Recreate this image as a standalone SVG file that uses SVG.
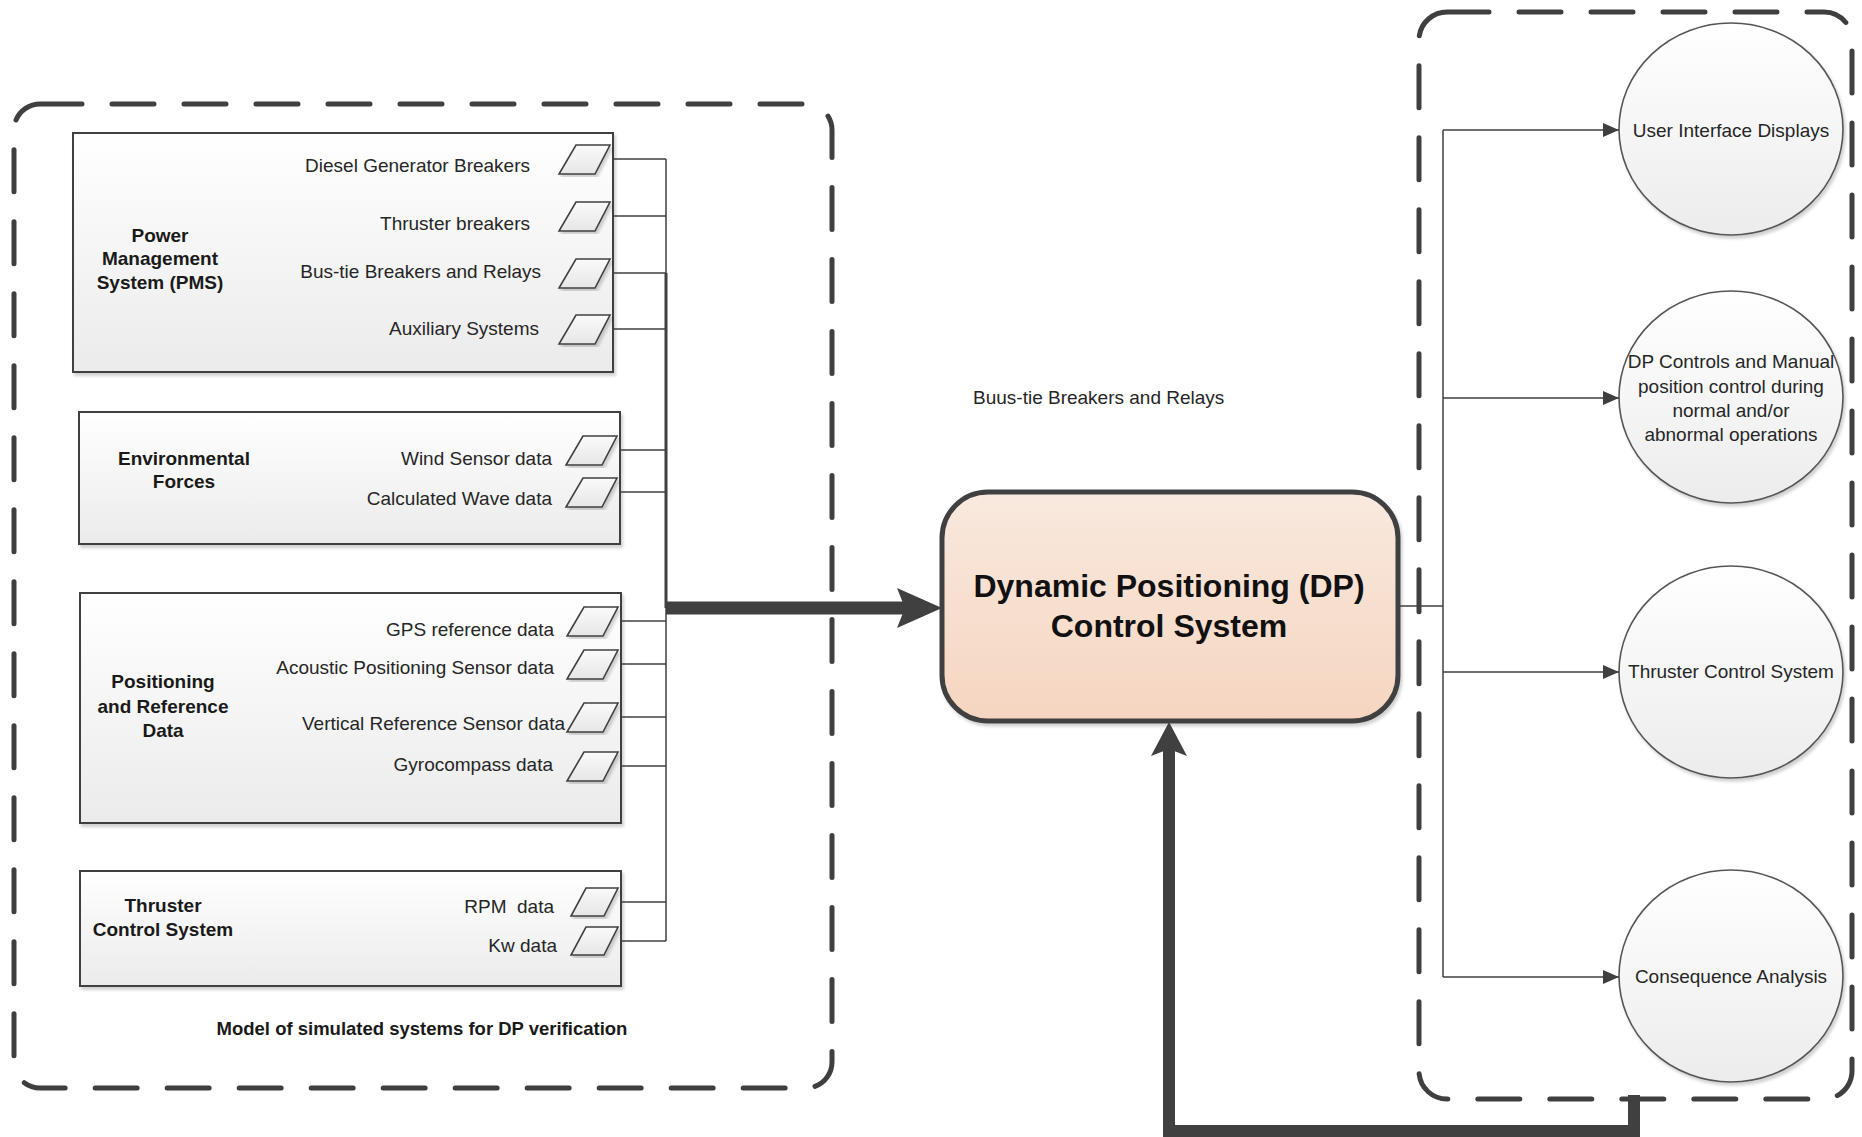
<svg xmlns="http://www.w3.org/2000/svg" width="1862" height="1137" viewBox="0 0 1862 1137">
<style>
.container{fill:none;stroke:#3f3f3f;stroke-width:5;stroke-dasharray:42 30;stroke-linecap:round}
.box{fill:url(#gBox);stroke:#404040;stroke-width:2;filter:url(#sh)}
.para{fill:url(#gPara);stroke:#404040;stroke-width:1.6;filter:url(#sh)}
.ell{fill:url(#gEll);stroke:#555555;stroke-width:1.6;filter:url(#sh)}
.dp{fill:url(#gDP);stroke:#404040;stroke-width:5;filter:url(#sh)}
.item{font-family:"Liberation Sans",Arial,sans-serif;font-size:19px;fill:#262626;text-anchor:end}
.lbl{font-family:"Liberation Sans",Arial,sans-serif;font-size:19px;font-weight:bold;fill:#1a1a1a;text-anchor:middle}
.ctext{font-family:"Liberation Sans",Arial,sans-serif;font-size:19px;fill:#262626;text-anchor:middle}
.title{font-family:"Liberation Sans",Arial,sans-serif;font-size:32px;font-weight:bold;fill:#111111;text-anchor:middle}
.thin{fill:none;stroke:#404040;stroke-width:1.5}
.thick{fill:none;stroke:#404040;stroke-width:13;stroke-linejoin:miter}
.head{fill:#404040}
</style>
<defs>
<linearGradient id="gBox" x1="0" y1="0" x2="0" y2="1"><stop offset="0" stop-color="#ffffff"/><stop offset="1" stop-color="#ebebeb"/></linearGradient>
<linearGradient id="gPara" x1="0" y1="0" x2="0" y2="1"><stop offset="0" stop-color="#fafafa"/><stop offset="1" stop-color="#e6e6e6"/></linearGradient>
<linearGradient id="gEll" x1="0" y1="0" x2="0" y2="1"><stop offset="0" stop-color="#ffffff"/><stop offset="1" stop-color="#ececec"/></linearGradient>
<linearGradient id="gDP" x1="0" y1="0" x2="0" y2="1"><stop offset="0" stop-color="#f9e9de"/><stop offset="1" stop-color="#f5d5c0"/></linearGradient>
<filter id="sh" x="-5%" y="-5%" width="112%" height="115%"><feDropShadow dx="2" dy="3" stdDeviation="1.5" flood-color="#000000" flood-opacity="0.18"/></filter>
<marker id="arr" markerUnits="userSpaceOnUse" markerWidth="16" markerHeight="14" refX="16" refY="7" orient="auto"><path d="M0,0 L16,7 L0,14 Z" fill="#404040"/></marker>
</defs>

<g id="containers">
<rect id="sim-container" class="container" x="14" y="104" width="818" height="984" rx="26"/>
<rect id="out-container" class="container" x="1419" y="12" width="433" height="1087" rx="28"/>
</g>

<g id="node-pms">
<rect class="box" x="73" y="133" width="540" height="239"/>
<text class="lbl" x="160" y="242">Power</text>
<text class="lbl" x="160" y="265">Management</text>
<text class="lbl" x="160" y="289">System (PMS)</text>
<polygon class="para" points="576,145 610,145 595,174 559,174"/>
<polygon class="para" points="576,202 610,202 595,231 559,231"/>
<polygon class="para" points="576,259 610,259 595,288 559,288"/>
<polygon class="para" points="576,315 610,315 595,344 559,344"/>
<text class="item" x="530" y="172">Diesel Generator Breakers</text>
<text class="item" x="530" y="230">Thruster breakers</text>
<text class="item" x="541" y="278">Bus-tie Breakers and Relays</text>
<text class="item" x="539" y="335">Auxiliary Systems</text>
</g>

<g id="node-env">
<rect class="box" x="79" y="412" width="541" height="132"/>
<text class="lbl" x="184" y="465">Environmental</text>
<text class="lbl" x="184" y="488">Forces</text>
<polygon class="para" points="583,436 617,436 602,465 566,465"/>
<polygon class="para" points="583,478 617,478 602,507 566,507"/>
<text class="item" x="552" y="465">Wind Sensor data</text>
<text class="item" x="552" y="505">Calculated Wave data</text>
</g>

<g id="node-pos">
<rect class="box" x="80" y="593" width="541" height="230"/>
<text class="lbl" x="163" y="688">Positioning</text>
<text class="lbl" x="163" y="713">and Reference</text>
<text class="lbl" x="163" y="737">Data</text>
<polygon class="para" points="584,607 618,607 603,636 567,636"/>
<polygon class="para" points="584,650 618,650 603,679 567,679"/>
<polygon class="para" points="584,703 618,703 603,732 567,732"/>
<polygon class="para" points="584,752 618,752 603,781 567,781"/>
<text class="item" x="554" y="636">GPS reference data</text>
<text class="item" x="554" y="674">Acoustic Positioning Sensor data</text>
<text class="item" x="565" y="730">Vertical Reference Sensor data</text>
<text class="item" x="553" y="771">Gyrocompass data</text>
</g>

<g id="node-tcs-sim">
<rect class="box" x="80" y="871" width="541" height="115"/>
<text class="lbl" x="163" y="912">Thruster</text>
<text class="lbl" x="163" y="936">Control System</text>
<polygon class="para" points="586,888 618,888 604,916 571,916"/>
<polygon class="para" points="586,927 618,927 604,955 571,955"/>
<text class="item" x="554" y="913" style="white-space:pre">RPM  data</text>
<text class="item" x="557" y="952">Kw data</text>
</g>

<g id="label-model">
<text class="lbl" x="422" y="1035" style="font-size:18.5px">Model of simulated systems for DP verification</text>
</g>

<g id="label-buus">
<text class="ctext" x="973" y="404" style="text-anchor:start">Buus-tie Breakers and Relays</text>
</g>

<g id="node-dp">
<rect class="dp" x="942" y="492" width="456" height="229" rx="46"/>
<text class="title" x="1169" y="597">Dynamic Positioning (DP)</text>
<text class="title" x="1169" y="637">Control System</text>
</g>

<g id="node-ui">
<ellipse class="ell" cx="1731" cy="129" rx="112" ry="106"/>
<text class="ctext" x="1731" y="137">User Interface Displays</text>
</g>
<g id="node-dpc">
<ellipse class="ell" cx="1731" cy="397" rx="112" ry="106"/>
<text class="ctext" x="1731" y="368">DP Controls and Manual</text>
<text class="ctext" x="1731" y="393">position control during</text>
<text class="ctext" x="1731" y="417">normal and/or</text>
<text class="ctext" x="1731" y="441">abnormal operations</text>
</g>
<g id="node-tcs">
<ellipse class="ell" cx="1731" cy="672" rx="112" ry="106"/>
<text class="ctext" x="1731" y="678">Thruster Control System</text>
</g>
<g id="node-ca">
<ellipse class="ell" cx="1731" cy="976" rx="112" ry="106"/>
<text class="ctext" x="1731" y="983">Consequence Analysis</text>
</g>

<g id="connectors">
<path class="thin" d="M613,159 H666 M613,216 H666 M613,273 H666 M613,329 H666"/>
<path class="thin" d="M620,450 H666 M620,492 H666"/>
<path class="thin" d="M621,621 H666 M621,664 H666 M621,717 H666 M621,766 H666"/>
<path class="thin" d="M621,902 H666 M621,941 H666"/>
<path class="thin" d="M666,159 V273 M666,608 V941"/>
<path fill="none" stroke="#404040" stroke-width="3" d="M666,273 V608"/>
<path class="thick" d="M666,608 H906"/>
<polygon class="head" points="942,608 897,628 905,608 897,588"/>
<path class="thick" d="M1634,1095 V1131 H1169 V748" style="stroke-width:12"/>
<polygon class="head" points="1169,722 1187,756 1169,749 1151,756"/>
<path class="thin" d="M1398,606 H1443 M1443,130 V977"/>
<path class="thin" marker-end="url(#arr)" d="M1443,130 H1619"/>
<path class="thin" marker-end="url(#arr)" d="M1443,398 H1619"/>
<path class="thin" marker-end="url(#arr)" d="M1443,672 H1619"/>
<path class="thin" marker-end="url(#arr)" d="M1443,977 H1619"/>
</g>
</svg>
